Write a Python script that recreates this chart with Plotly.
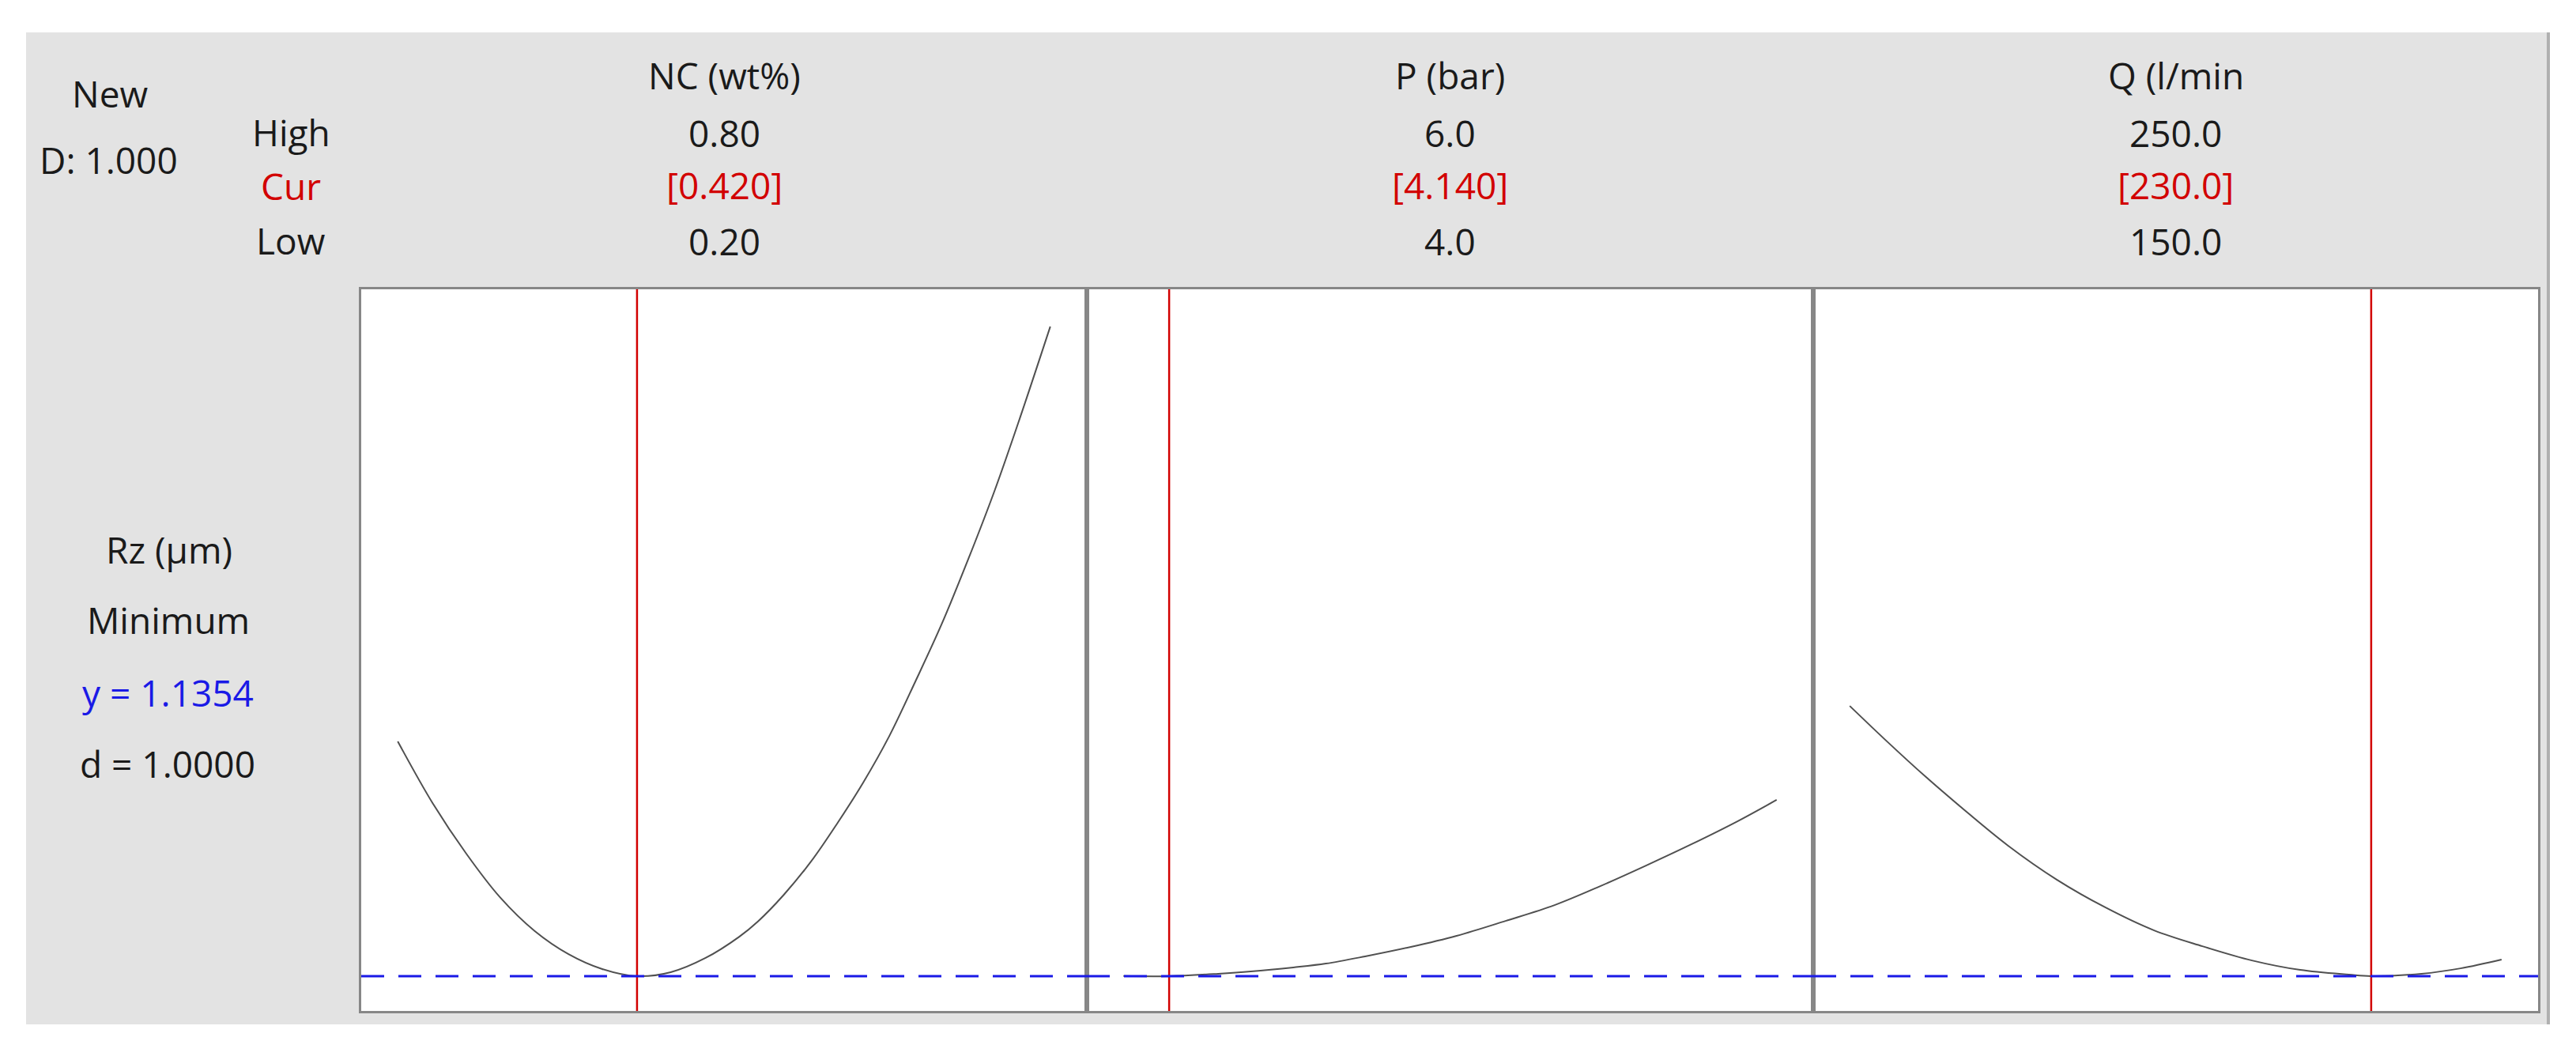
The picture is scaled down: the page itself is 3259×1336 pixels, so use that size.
import plotly.graph_objects as go
from plotly.subplots import make_subplots

# factors (columns of the optimizer plot)
factor_names = ["NC (wt%)", "P (bar)", "Q (l/min"]
factor_low = [0.20, 4.0, 150.0]
factor_high = [0.80, 6.0, 250.0]
factor_cur = [0.420, 4.140, 230.0]
high_labels = ["0.80", "6.0", "250.0"]
cur_labels = ["[0.420]", "[4.140]", "[230.0]"]
low_labels = ["0.20", "4.0", "150.0"]

# response
response_name = "Rz (µm)"
response_goal = "Minimum"
y_opt = 1.1354
d_value = 1.0000
composite_d = 1.000

# predicted response along each factor
nc_x = [0.200, 0.232, 0.263, 0.294, 0.326, 0.357, 0.388, 0.420, 0.451, 0.483, 0.514, 0.531,
        0.555, 0.580, 0.604, 0.628, 0.652, 0.676, 0.700, 0.725, 0.749, 0.772, 0.800]
nc_y = [2.175, 1.902, 1.678, 1.485, 1.335, 1.233, 1.167, 1.1354, 1.153, 1.216, 1.310, 1.377,
        1.496, 1.643, 1.811, 1.993, 2.199, 2.441, 2.693, 2.987, 3.288, 3.606, 4.012]

p_x = [4.00, 4.14, 4.29, 4.39, 4.52, 4.62, 4.74, 4.88, 5.02, 5.17, 5.32, 5.46, 5.60, 5.74, 5.88, 6.00]
p_y = [1.136, 1.1354, 1.146, 1.156, 1.174, 1.191, 1.223, 1.265, 1.314, 1.380, 1.450, 1.534,
       1.625, 1.720, 1.821, 1.916]

q_x = [150.0, 155.6, 161.7, 166.9, 174.3, 181.8, 189.2, 196.7, 204.1, 211.7, 219.1, 226.6,
       230.0, 237.7, 243.7, 250.0]
q_y = [2.332, 2.178, 2.017, 1.888, 1.713, 1.562, 1.440, 1.338, 1.268, 1.205, 1.163, 1.142,
       1.1354, 1.146, 1.170, 1.209]

curves = [(nc_x, nc_y), (p_x, p_y), (q_x, q_y)]

W, H = 3259, 1336
FONT = "Open Sans"
FS = 46
RED = "#d20000"
BLUE = "#1a1ae6"
GRAY_BG = "#e3e3e3"
BORDER = "#878787"

# panel edges in pixels
px_edges = [457, 1375, 2294, 3211]
py_top, py_bot = 366, 1279

def fx(px):
    return px / W

def fy(py):
    return 1 - py / H

fig = make_subplots(rows=1, cols=3, horizontal_spacing=0)

for i, (xs, ys) in enumerate(curves):
    fig.add_trace(go.Scatter(x=xs, y=ys, mode="lines",
                             line=dict(color="#505050", width=2, shape="spline", smoothing=1),
                             showlegend=False, hoverinfo="skip"),
                  row=1, col=i + 1)
    span = factor_high[i] - factor_low[i]
    fig.update_xaxes(range=[factor_low[i] - 0.056 * span, factor_high[i] + 0.056 * span],
                     domain=[fx(px_edges[i]), fx(px_edges[i + 1])],
                     showticklabels=False, ticks="", showgrid=False, zeroline=False,
                     showline=True, mirror=True, linecolor=BORDER, linewidth=2.5,
                     row=1, col=i + 1)
    fig.update_yaxes(range=[0.9814, 4.1769], domain=[fy(py_bot), fy(py_top)],
                     showticklabels=False, ticks="", showgrid=False, zeroline=False,
                     showline=True, mirror=True, linecolor=BORDER, linewidth=2.5,
                     row=1, col=i + 1)
    # current setting and optimal response
    fig.add_vline(x=factor_cur[i], line=dict(color=RED, width=2.5), row=1, col=i + 1)
    fig.add_hline(y=y_opt, line=dict(color=BLUE, width=3, dash="29px,18px"), row=1, col=i + 1)

# gray panel background, shadow, and white plot area
fig.add_shape(type="rect", xref="paper", yref="paper", layer="below",
              x0=fx(3221), x1=fx(3226), y0=fy(1296), y1=fy(41),
              fillcolor="#b0b0b0", line_width=0)
fig.add_shape(type="rect", xref="paper", yref="paper", layer="below",
              x0=fx(33), x1=fx(3222), y0=fy(1296), y1=fy(41),
              fillcolor=GRAY_BG, line_width=0)
fig.add_shape(type="rect", xref="paper", yref="paper", layer="below",
              x0=fx(px_edges[0]), x1=fx(px_edges[3]), y0=fy(py_bot), y1=fy(py_top),
              fillcolor="white", line_width=0)

def txt(text, px, py, color="#1a1a1a"):
    fig.add_annotation(text=text, x=fx(px), y=fy(py), xref="paper", yref="paper",
                       showarrow=False, xanchor="center", yanchor="middle",
                       font=dict(family=FONT, size=FS, color=color))

# top-left block
txt("New", 139, 118)
txt(f"D: {composite_d:.3f}", 137, 202)
txt("High", 368, 167)
txt("Cur", 368, 235, RED)
txt("Low", 368, 304)

# column headers
for i in range(3):
    cx = (px_edges[i] + px_edges[i + 1]) / 2
    txt(factor_names[i], cx, 95)
    txt(high_labels[i], cx, 168)
    txt(cur_labels[i], cx, 234, RED)
    txt(low_labels[i], cx, 305)

# response block
txt(response_name, 214, 695)
txt(response_goal, 213, 784)
txt(f"y = {y_opt:.4f}", 212, 876, BLUE)
txt(f"d = {d_value:.4f}", 212, 966)

fig.update_layout(width=W, height=H, margin=dict(l=0, r=0, t=0, b=0),
                  paper_bgcolor="white", plot_bgcolor="rgba(0,0,0,0)",
                  showlegend=False)

fig.write_html("out.html", config={"displayModeBar": False},
               post_script="document.body.style.margin='0';")
